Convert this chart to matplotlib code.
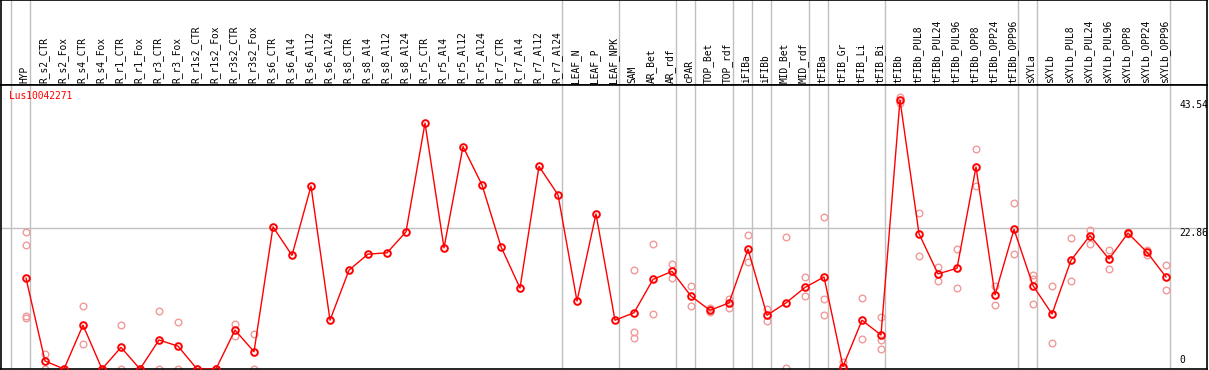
"""Expression profile of Lus10042271 across flax tissues/treatments (mean + replicates)."""
import matplotlib
matplotlib.use("Agg")
import matplotlib.pyplot as plt  # noqa: E402

GENE = "Lus10042271"
SAMPLES = ["HYP", "R_s2_CTR", "R_s2_Fox", "R_s4_CTR", "R_s4_Fox", "R_r1_CTR", "R_r1_Fox",
           "R_r3_CTR", "R_r3_Fox", "R_r1s2_CTR", "R_r1s2_Fox", "R_r3s2_CTR", "R_r3s2_Fox",
           "R_s6_CTR", "R_s6_Al4", "R_s6_Al12", "R_s6_Al24", "R_s8_CTR", "R_s8_Al4", "R_s8_Al12",
           "R_s8_Al24", "R_r5_CTR", "R_r5_Al4", "R_r5_Al12", "R_r5_Al24", "R_r7_CTR", "R_r7_Al4",
           "R_r7_Al12", "R_r7_Al24", "LEAF_N", "LEAF_P", "LEAF_NPK", "SAM", "AR_Bet", "AR_rdf",
           "cPAR", "TOP_Bet", "TOP_rdf", "iFIBa", "iFIBb", "MID_Bet", "MID_rdf", "tFIBa",
           "tFIB_Gr", "tFIB_Li", "tFIB_Bi", "tFIBb", "tFIBb_PUL8", "tFIBb_PUL24", "tFIBb_PUL96",
           "tFIBb_OPP8", "tFIBb_OPP24", "tFIBb_OPP96", "sXYLa", "sXYLb", "sXYLb_PUL8",
           "sXYLb_PUL24", "sXYLb_PUL96", "sXYLb_OPP8", "sXYLb_OPP24", "sXYLb_OPP96"]
MEANS = [14.7, 1.3, 0.0, 7.1, 0.0, 3.5, 0.0, 4.7, 3.7, 0.0, 0.0, 6.3, 2.8,
         23.0, 18.4, 29.6, 7.9, 16.0, 18.6, 18.8, 22.2, 39.8, 19.6, 36.0, 29.8,
         19.8, 13.1, 32.8, 28.2, 11.0, 25.1, 7.9, 9.1, 14.5, 15.8, 11.8, 9.5, 10.7,
         19.4, 8.7, 10.7, 13.2, 14.9, 0.4, 7.9, 5.5, 43.54, 21.9, 15.4, 16.3, 32.7,
         12.0, 22.6, 13.5, 8.9, 17.6, 21.6, 17.8, 22.0, 18.9, 14.9]
REPS = [[22.2, 20.0, 8.6, 8.2], [2.5, 0.0], [0.0, 0.0], [10.2, 4.1], [0.0, 0.0],
        [7.1, 0.0], [0.0, 0.0], [9.4, 0.0], [7.6, 0.0], [0.0, 0.0], [0.0, 0.0],
        [7.3, 5.3], [5.7, 0.0],
        [], [], [], [], [], [], [], [], [], [], [], [], [], [], [], [], [], [], [],
        [16.0, 6.0, 5.0], [20.2, 8.9], [17.0, 14.7], [13.5, 10.2], [9.8, 9.2],
        [11.3, 9.8], [21.7, 17.3], [9.7, 7.7], [21.4, 0.1], [14.9, 11.8],
        [24.6, 11.3, 8.7], [1.2, 0.0, 0.0], [11.5, 4.9], [8.4, 4.7, 3.2],
        [44.0, 43.1], [25.2, 18.3], [16.5, 14.2], [19.4, 13.1], [35.6, 29.7],
        [13.5, 10.4], [26.9, 18.6], [15.2, 14.6, 10.5], [13.5, 4.2], [21.2, 14.2],
        [22.5, 20.3], [19.3, 16.2], [22.2, 21.8], [19.3, 18.5], [16.8, 12.8]]
# group separators drawn just right of these sample indices
SEPARATORS = [-1, 0, 28, 31, 34, 35, 37, 38, 39, 41, 42, 45, 52, 53, 60]
YTICKS = [0, 22.86, 43.54]

W, H = 1209, 370
STEP, X0 = 19, 26            # px between samples, px of first sample
LEFT, RIGHT = 1, 1207        # plot frame in px
HEAD, BOTTOM = 85, 369       # header line and bottom line in px
PX_PER_UNIT = (BOTTOM - 100) / 43.54
GRID = "#c0c0c0"
MONO = "DejaVu Sans Mono"
FS = 6.9


def main():
    fig = plt.figure(figsize=(W / 100, H / 100), dpi=100)
    xmin = -(X0 - LEFT) / STEP
    xmax = xmin + (RIGHT - LEFT) / STEP
    ymax = (BOTTOM - HEAD) / PX_PER_UNIT

    head = fig.add_axes([LEFT / W, (H - HEAD) / H, (RIGHT - LEFT) / W, HEAD / H])
    ax = fig.add_axes([LEFT / W, (H - BOTTOM) / H, (RIGHT - LEFT) / W, (BOTTOM - HEAD) / H])
    head.set_xlim(xmin, xmax); head.set_ylim(0, HEAD)
    ax.set_xlim(xmin, xmax); ax.set_ylim(0, ymax)
    for a in (head, ax):
        a.set_xticks([]); a.set_yticks([])
        for s in a.spines.values():
            s.set_color("black"); s.set_linewidth(1.2)
        for sep in SEPARATORS:
            a.axvline(sep + 4 / STEP, color=GRID, lw=1.0, zorder=0)

    for i, name in enumerate(SAMPLES):
        head.text(i - 0.08, 2, name, rotation=90, ha="center", va="bottom",
                  family=MONO, fontsize=FS, color="black")

    ax.axhline(YTICKS[1], color=GRID, lw=1.0, zorder=0)
    xs = list(range(len(SAMPLES)))
    rx = [i for i, r in enumerate(REPS) for _ in r]
    ry = [v for r in REPS for v in r]
    ax.plot(rx, ry, ls="none", marker="o", ms=4.8, mfc="none", mec="#f09a9a", mew=1.0, zorder=2)
    ax.plot(xs, MEANS, color="red", lw=1.0, marker="o", ms=4.8, mfc="none",
            mec="red", mew=1.4, zorder=3)

    xt = 60 + (1179 - 1166) / STEP
    ax.text(xt, YTICKS[2], f"{YTICKS[2]:.2f}", ha="left", va="top", family=MONO, fontsize=FS)
    ax.text(xt, YTICKS[1], f"{YTICKS[1]:.2f}", ha="left", va="top", family=MONO, fontsize=FS)
    ax.text(xt, 0.6, f"{YTICKS[0]}", ha="left", va="bottom", family=MONO, fontsize=FS)

    fig.text(9 / W, 1 - 91 / H, GENE, ha="left", va="top", family=MONO, fontsize=FS, color="red")
    fig.savefig("out.png", dpi=100)


if __name__ == "__main__":
    main()
